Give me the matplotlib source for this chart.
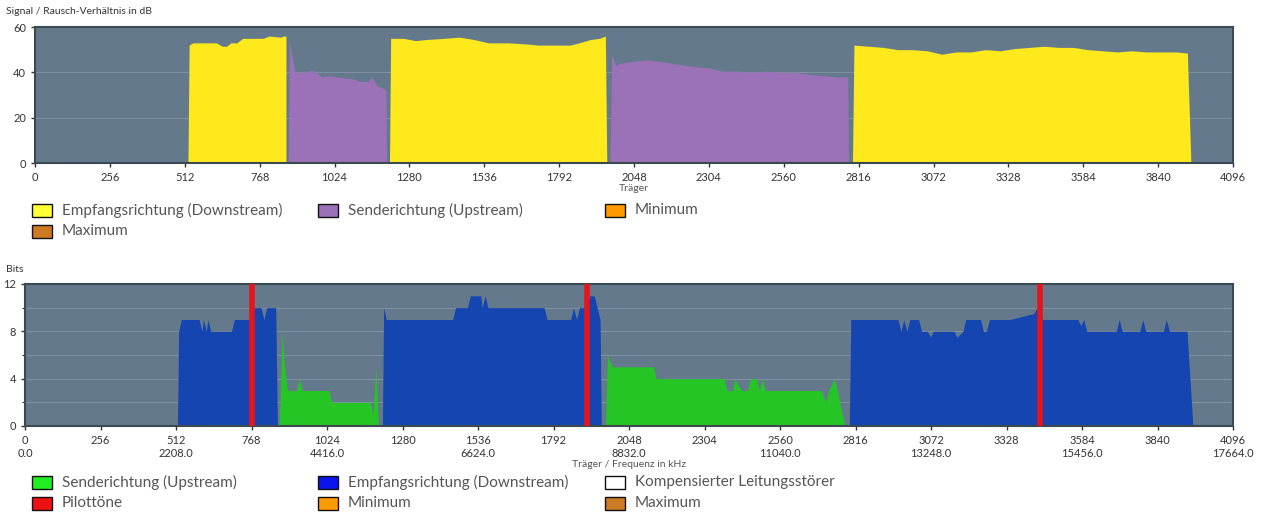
import matplotlib
matplotlib.use("Agg")
import matplotlib.pyplot as plt
from matplotlib.patches import Rectangle

# ---- SNR data (carrier, dB) ----
snr_down1_x = [523, 527, 540, 620, 640, 655, 670, 690, 710, 740, 780, 800, 840, 850, 858]
snr_down1_y = [0, 52, 53, 53, 51.5, 51.5, 53, 53, 55, 55, 55, 56, 55.5, 56, 56]
snr_up1_x = [866, 870, 880, 890, 920, 950, 980, 1000, 1030, 1060, 1090, 1110, 1140, 1150, 1170, 1190, 1200, 1202]
snr_up1_y = [0, 54, 46, 40, 40, 41, 38, 38.5, 38, 37.5, 37, 36, 36, 38, 34, 33, 32, 0]
snr_down2_x = [1212, 1216, 1260, 1300, 1340, 1400, 1450, 1500, 1550, 1620, 1680, 1720, 1780, 1830, 1860, 1900, 1930, 1950, 1955]
snr_down2_y = [0, 55, 55, 54, 54.5, 55, 55.5, 54.5, 53, 53, 52.5, 52, 52, 52, 53, 54.5, 55, 56, 0]
snr_up2_x = [1966, 1972, 1985, 2000, 2050, 2100, 2150, 2200, 2250, 2300, 2350, 2400, 2450, 2500, 2550, 2600, 2650, 2700, 2740, 2779, 2781]
snr_up2_y = [0, 48, 43, 44, 45, 45.5, 44.5, 43.5, 42.5, 42, 40.5, 40.5, 40, 40.5, 40, 40, 39, 38.5, 38, 38, 0]
snr_down3_x = [2795, 2800, 2850, 2900, 2950, 3000, 3050, 3100, 3150, 3200, 3250, 3300, 3350, 3400, 3450, 3500, 3550, 3600, 3650, 3700, 3750, 3800, 3850, 3900, 3940, 3952]
snr_down3_y = [0, 52, 51.5, 51, 50, 50, 49.5, 48, 49, 49, 50, 49.5, 50.5, 51, 51.5, 51, 51, 50, 49.5, 49, 49.5, 49, 49, 49, 48.5, 0]

# ---- Bits data (carrier, bits) ----
bit_down1_x = [517, 521, 530, 590, 600, 605, 615, 620, 630, 660, 700, 710, 760, 770, 800, 810, 820, 850, 856]
bit_down1_y = [0, 8, 9, 9, 8, 9, 8, 9, 8, 8, 8, 9, 9, 10, 10, 9, 10, 10, 0]
bit_up1_x = [858, 862, 872, 880, 890, 920, 930, 940, 1030, 1040, 1170, 1180, 1190, 1198, 1202]
bit_up1_y = [0, 0, 8, 5, 3, 3, 4, 3, 3, 2, 2, 1, 5, 0, 0]
bit_down2_x = [1212, 1216, 1225, 1450, 1460, 1500, 1510, 1545, 1550, 1560, 1570, 1760, 1770, 1850, 1860, 1870, 1880, 1900, 1915, 1930, 1940, 1950, 1954]
bit_down2_y = [0, 10, 9, 9, 10, 10, 11, 11, 10, 11, 10, 10, 9, 9, 10, 9, 10, 10, 11, 11, 10, 9, 0]
bit_up2_x = [1962, 1968, 1975, 1990, 2130, 2140, 2370, 2380, 2400, 2405, 2430, 2450, 2460, 2480, 2490, 2500, 2510, 2700, 2715, 2725, 2745, 2780, 2784]
bit_up2_y = [0, 0, 6, 5, 5, 4, 4, 3, 3, 4, 3, 3, 4, 4, 3, 4, 3, 3, 2, 3, 4, 0, 0]
bit_down3_x = [2795, 2800, 2960, 2970, 2980, 2990, 3000, 3010, 3030, 3040, 3060, 3070, 3080, 3100, 3110, 3150, 3160, 3180, 3190, 3240, 3250, 3260, 3270, 3280, 3340, 3420, 3432, 3440, 3450, 3470, 3570, 3580, 3590, 3600, 3610, 3700, 3710, 3720, 3780, 3790, 3800, 3860, 3870, 3880, 3940, 3960]
bit_down3_y = [0, 9, 9, 8, 9, 8, 9, 9, 9, 8, 8, 7.5, 8, 8, 8, 8, 7.5, 8, 9, 9, 8, 8, 9, 9, 9, 9.5, 10, 10, 9, 9, 9, 8.5, 9, 8, 8, 8, 9, 8, 8, 9, 8, 8, 9, 8, 8, 0]
pilot_tones = [768, 1905, 3441]

xticks = [0, 256, 512, 768, 1024, 1280, 1536, 1792, 2048, 2304, 2560, 2816, 3072, 3328, 3584, 3840, 4096]
freq_labels = ["0.0", "", "2208.0", "", "4416.0", "", "6624.0", "", "8832.0", "", "11040.0", "", "13248.0", "", "15456.0", "", "17664.0"]

BG = "#647a8c"
YEL = "#fde91c"; PUR = "#9b72b8"; BLU = "#1545b0"; GRN = "#26c526"; RED = "#e8141b"
TXT = "#333333"; LEG = "#555555"
plt.rcParams['font.family'] = ['Lato', 'DejaVu Sans']

fig = plt.figure(figsize=(12.61, 5.19), dpi=100)

def style(ax, ymax, yt):
    ax.set_facecolor(BG)
    ax.set_xlim(0, 4096); ax.set_ylim(0, ymax)
    ax.set_yticks(yt)
    for y in yt[1:-1]:
        ax.axhline(y, color="#7d909f", lw=0.8, zorder=0.5)
    for s in ax.spines.values():
        s.set_color("#3a4a50"); s.set_linewidth(1.5)
    ax.tick_params(colors=TXT, labelsize=8, length=3, width=1)

ax1 = fig.add_axes([35/1261, 1-163/519, 1198/1261, 136/519])
style(ax1, 60, [0, 20, 40, 60])
for xs, ys, c in [(snr_down1_x, snr_down1_y, YEL), (snr_up1_x, snr_up1_y, PUR), (snr_down2_x, snr_down2_y, YEL),
                  (snr_up2_x, snr_up2_y, PUR), (snr_down3_x, snr_down3_y, YEL)]:
    ax1.fill_between(xs, ys, 0, color=c, lw=0, zorder=2)
ax1.set_xticks(xticks)
ax1.set_xlabel("Träger", fontsize=7.5, color=LEG, labelpad=1)
fig.text(6/1261, 1-12/519, "Signal / Rausch-Verhältnis in dB", fontsize=7.5, color=TXT, va="center")

ax2 = fig.add_axes([25/1261, 1-426/519, 1208/1261, 142/519])
style(ax2, 12, [0, 4, 8, 12])
ax2.set_yticks([2, 6, 10], minor=True)
for y in [2, 6, 10]:
    ax2.axhline(y, color="#7d909f", lw=0.8, zorder=0.5)
for xs, ys, c in [(bit_down1_x, bit_down1_y, BLU), (bit_up1_x, bit_up1_y, GRN), (bit_down2_x, bit_down2_y, BLU),
                  (bit_up2_x, bit_up2_y, GRN), (bit_down3_x, bit_down3_y, BLU)]:
    ax2.fill_between(xs, ys, 0, color=c, lw=0, zorder=2)
for p in pilot_tones:
    ax2.axvline(p, color=RED, lw=4, zorder=3)
ax2.set_xticks(xticks)
ax2.set_xticklabels([f"{t}\n{f}" if f else f"{t}" for t, f in zip(xticks, freq_labels)])
ax2.set_xlabel("Träger / Frequenz in kHz", fontsize=7.5, color=LEG, labelpad=1)
fig.text(6/1261, 1-269/519, "Bits", fontsize=7.5, color=TXT, va="center")

def legend_item(xp, yp, color, label):
    fig.patches.append(Rectangle((xp/1261, 1-(yp+7)/519), 20/1261, 13/519, transform=fig.transFigure,
                                 facecolor=color, edgecolor="#111111", lw=1))
    fig.text((xp+30)/1261, 1-yp/519, label, fontsize=11, color=LEG, va="center")

legend_item(32, 210, "#ffff33", "Empfangsrichtung (Downstream)")
legend_item(318, 210, PUR, "Senderichtung (Upstream)")
legend_item(605, 210, "#ff9900", "Minimum")
legend_item(32, 231, "#cc7a22", "Maximum")

legend_item(32, 482, "#22ee22", "Senderichtung (Upstream)")
legend_item(318, 482, "#0a14ee", "Empfangsrichtung (Downstream)")
legend_item(605, 482, "#ffffff", "Kompensierter Leitungsstörer")
legend_item(32, 503, "#ee1111", "Pilottöne")
legend_item(318, 503, "#ff9900", "Minimum")
legend_item(605, 503, "#cc7a22", "Maximum")

fig.savefig("out.png", dpi=100)
